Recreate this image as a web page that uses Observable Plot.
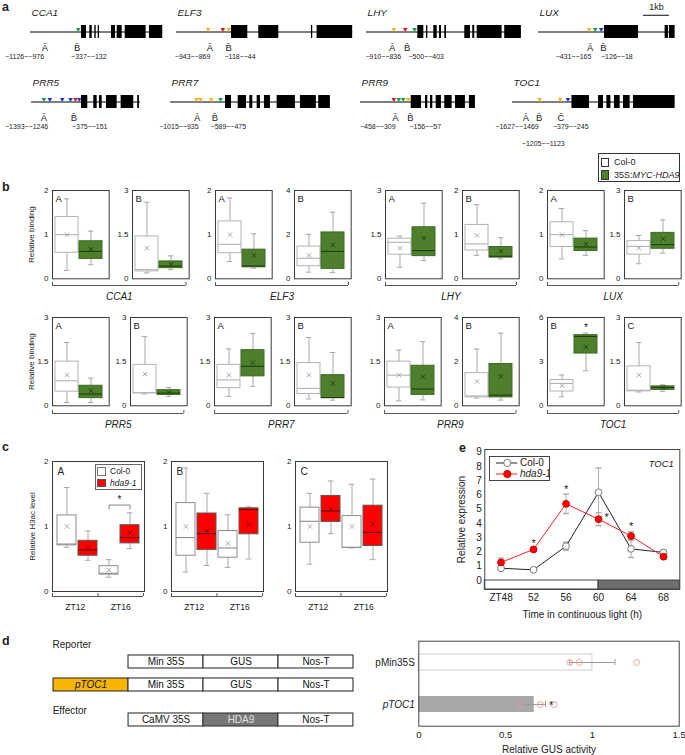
<!DOCTYPE html>
<html>
<head>
<meta charset="utf-8">
<script src="https://cdn.jsdelivr.net/npm/d3@7"></script>
<script src="https://cdn.jsdelivr.net/npm/@observablehq/plot@0.6"></script>
<style>
html,body{margin:0;padding:0;background:#fff;}
#fig{position:relative;width:685px;height:755px;overflow:hidden;font-family:"Liberation Sans",Arial,Helvetica,sans-serif;color:#222;}
#fig svg{overflow:visible;}
.t{position:absolute;white-space:nowrap;}
.box{position:absolute;box-sizing:border-box;}
</style>
</head>
<body>
<div id="fig"></div>
<script>
// ================= DATA =================
// ---- a: gene structures (bp, relative to first exon start) ----
const aGenes = ["CCA1","ELF3","LHY","LUX","PRR5","PRR7","PRR9","TOC1"];
const aSpan = {CCA1:[-1962,3127], ELF3:[-2115,4665], LHY:[-1973,3988], LUX:[-2538,2719],
               PRR5:[-1923,2269], PRR7:[-2115,4038], PRR9:[-1950,2473], TOC1:[-2285,3973]};
const aExons = {
  CCA1:[[0,192],[319,412],[512,565],[642,692],[1154,1308],[1373,1565],[1681,2488],[2615,3127]],
  ELF3:[[0,627],[1050,1819],[3077,3127],[3296,4665]],
  LHY:[[0,231],[335,385],[615,746],[835,912],[1038,1104],[1808,2027],[2115,2192],[2285,3246],[3346,3988]],
  LUX:[[0,1308],[2335,2462],[2500,2719]],
  PRR5:[[0,242],[473,604],[692,796],[962,1373],[1527,2012],[2165,2231]],
  PRR7:[[0,231],[488,808],[935,1050],[1219,1346],[1500,1731],[1988,2692],[2885,3500],[3588,4038]],
  PRR9:[[0,396],[550,638],[742,831],[962,1165],[1292,1577],[1704,2088],[2242,2473]],
  TOC1:[[0,677],[1023,1215],[1346,1500],[1638,1858],[1985,2242],[2369,3973]]
};
const motifTypes = ["Y","R","G","B"];
const motifColors = ["#f6b319","#e5141c","#14a04c","#1d35d4"];
const aMotifs = {
  CCA1:[["G",-127]],
  ELF3:[["Y",-896],["R",-335],["Y",-104]],
  LHY:[["Y",-923],["R",-485],["G",-127]],
  LUX:[["Y",-588],["G",-358],["B",-127]],
  PRR5:[["G",-1450],["B",-1219],["B",-742],["B",-423],["R",-231],["B",-88]],
  PRR7:[["Y",-1115],["Y",-962],["Y",-550],["G",-192]],
  PRR9:[["R",-669],["G",-477],["G",-308],["Y",-115]],
  TOC1:[["Y",-1246],["Y",-450],["B",-154]]
};
const aRegions = {
  CCA1:[{id:"A",at:-1412,range:"−1126~−976",rangeAt:-2192,tier:1},{id:"B",at:-165,range:"−337~−132",rangeAt:281,tier:1}],
  ELF3:[{id:"A",at:-835,range:"−943~−869",rangeAt:-1500,tier:1},{id:"B",at:-115,range:"−118~−44",rangeAt:327,tier:1}],
  LHY:[{id:"A",at:-985,range:"−910~−836",rangeAt:-1331,tier:1},{id:"B",at:-408,range:"−500~−403",rangeAt:323,tier:1}],
  LUX:[{id:"A",at:-550,range:"−431~−165",rangeAt:-1192,tier:1},{id:"B",at:-38,range:"−126~−18",rangeAt:477,tier:1}],
  PRR5:[{id:"A",at:-1450,range:"−1393~−1246",rangeAt:-2115,tier:1},{id:"B",at:-296,range:"−375~−151",rangeAt:315,tier:1}],
  PRR7:[{id:"A",at:-1088,range:"−1015~−935",rangeAt:-1796,tier:1},{id:"B",at:-412,range:"−589~−475",rangeAt:108,tier:1}],
  PRR9:[{id:"A",at:-604,range:"−458~−309",rangeAt:-1288,tier:1},{id:"B",at:-27,range:"−156~−57",rangeAt:542,tier:1}],
  TOC1:[{id:"A",at:-1769,range:"−1627~−1469",rangeAt:-2115,tier:1},{id:"B",at:-1258,range:"−1205~−1123",rangeAt:-1104,tier:2},{id:"C",at:-423,range:"−379~−245",rangeAt:-46,tier:1}]
};
const scaleBar = [{from:1500, to:2500, label:"1kb"}];

// ---- b: ChIP relative binding, [lowWhisker, Q1, median, Q3, highWhisker, mean] ----
const bGenotypes = ["Col-0","35S:MYC-HDA9"];
const bGenes = ["CCA1","ELF3","LHY","LUX","PRR5","PRR7","PRR9","TOC1"];
const bSubpanels = [
  {gene:"CCA1",region:"A",top:2,col:[0.19,0.59,1.00,1.40,1.81,1.00],hda9:[0.32,0.45,0.62,0.85,1.08,0.67]},
  {gene:"CCA1",region:"B",top:3,col:[0.20,0.25,0.31,1.44,2.60,1.04],hda9:[0.31,0.36,0.43,0.59,0.78,0.49]},
  {gene:"ELF3",region:"A",top:2,col:[0.39,0.58,0.78,1.30,1.83,1.00],hda9:[0.24,0.26,0.29,0.66,1.02,0.53]},
  {gene:"ELF3",region:"B",top:4,col:[0.30,0.57,0.93,1.46,2.01,1.06],hda9:[0.28,0.45,1.24,2.10,3.02,1.54]},
  {gene:"LHY",region:"A",top:3,col:[0.39,0.82,1.24,1.36,1.45,1.04],hda9:[0.62,0.77,0.96,1.75,2.57,1.38]},
  {gene:"LHY",region:"B",top:2,col:[0.53,0.64,0.79,1.22,1.68,0.98],hda9:[0.45,0.48,0.51,0.72,0.93,0.63]},
  {gene:"LUX",region:"A",top:2,col:[0.45,0.72,1.00,1.28,1.59,1.00],hda9:[0.53,0.63,0.72,0.91,1.09,0.79]},
  {gene:"LUX",region:"B",top:3,col:[0.51,0.82,1.10,1.28,1.47,1.04],hda9:[0.87,1.02,1.16,1.56,2.00,1.36]},
  {gene:"PRR5",region:"A",top:3,col:[0.11,0.48,0.85,1.50,2.15,1.04],hda9:[0.11,0.26,0.40,0.68,0.94,0.51]},
  {gene:"PRR5",region:"B",top:3,col:[0.40,0.43,0.44,1.39,2.35,1.08],hda9:[0.32,0.37,0.43,0.53,0.62,0.45]},
  {gene:"PRR7",region:"A",top:3,col:[0.32,0.60,0.88,1.39,1.93,1.04],hda9:[0.66,1.00,1.34,1.89,2.46,1.47]},
  {gene:"PRR7",region:"B",top:3,col:[0.23,0.40,0.59,1.45,2.32,1.04],hda9:[0.19,0.26,0.28,1.04,1.81,0.76]},
  {gene:"PRR9",region:"A",top:3,col:[0.17,0.62,1.04,1.50,1.89,1.04],hda9:[0.20,0.37,0.57,1.36,2.18,0.99]},
  {gene:"PRR9",region:"B",top:4,col:[0.35,0.38,0.45,1.48,2.57,1.10],hda9:[0.26,0.38,0.48,1.89,3.29,1.33]},
  {gene:"TOC1",region:"B",top:6,col:[0.61,0.97,1.52,1.75,2.09,1.36],hda9:[2.38,3.55,4.71,4.80,4.94,4.01],star:"*"},
  {gene:"TOC1",region:"C",top:3,col:[0.47,0.49,0.53,1.34,2.15,1.04],hda9:[0.49,0.54,0.62,0.66,0.71,0.62]}
];

// ---- c: H3ac level ----
const cRegions = ["A","B","C"];
const cZT = ["ZT12","ZT16"];
const cGenotypes = ["Col-0","hda9-1"];
const cYTicks = [0,1,2];
const cH3ac = [
  {region:"A",zt:"ZT12",genotype:"Col-0", v:[0.68,0.71,0.73,1.17,1.60,1.00]},
  {region:"A",zt:"ZT12",genotype:"hda9-1",v:[0.48,0.55,0.64,0.78,0.93,0.68]},
  {region:"A",zt:"ZT16",genotype:"Col-0", v:[0.22,0.26,0.28,0.39,0.49,0.33]},
  {region:"A",zt:"ZT16",genotype:"hda9-1",v:[0.66,0.74,0.83,1.02,1.21,0.90]},
  {region:"B",zt:"ZT12",genotype:"Col-0", v:[0.30,0.55,0.83,1.36,1.90,1.00]},
  {region:"B",zt:"ZT12",genotype:"hda9-1",v:[0.40,0.64,0.89,1.20,1.51,0.93]},
  {region:"B",zt:"ZT16",genotype:"Col-0", v:[0.37,0.52,0.67,0.93,1.18,0.74]},
  {region:"B",zt:"ZT16",genotype:"hda9-1",v:[0.50,0.88,1.26,1.28,1.30,1.03]},
  {region:"C",zt:"ZT12",genotype:"Col-0", v:[0.42,0.75,1.08,1.29,1.51,1.00]},
  {region:"C",zt:"ZT12",genotype:"hda9-1",v:[0.89,1.07,1.24,1.47,1.70,1.27]},
  {region:"C",zt:"ZT16",genotype:"Col-0", v:[0.67,0.67,0.68,1.16,1.65,1.00]},
  {region:"C",zt:"ZT16",genotype:"hda9-1",v:[0.49,0.70,0.91,1.32,1.73,1.04]}
];
const cSignif = [{region:"A", zt:"ZT16", label:"*"}];

// ---- d: GUS reporter assay ----
const constructSlots = ["promoter","core","cds","terminator"];
const reporterParts = [
  {construct:"reporter1",slot:"core",label:"Min 35S"},{construct:"reporter1",slot:"cds",label:"GUS"},{construct:"reporter1",slot:"terminator",label:"Nos-T"},
  {construct:"reporter2",slot:"promoter",label:"pTOC1"},{construct:"reporter2",slot:"core",label:"Min 35S"},{construct:"reporter2",slot:"cds",label:"GUS"},{construct:"reporter2",slot:"terminator",label:"Nos-T"}
];
const effectorParts = [
  {construct:"effector",slot:"core",label:"CaMV 35S"},{construct:"effector",slot:"cds",label:"HDA9"},{construct:"effector",slot:"terminator",label:"Nos-T"}
];
const gusConstructs = ["pMin35S","pTOC1"];
const gusMean = [1.00, 0.665];
const gusErr = [0.13, 0.065];
const gusReps = [[0.87,0.925,1.255],[0.585,0.70,0.78]];
const gusSignif = ["", "*"];
const gusXTicks = [0, 0.5, 1, 1.5];
const gusXTitle = "Relative GUS activity";

// ---- e: TOC1 expression ----
const eTime = [48,52,56,60,64,68];
const eXTickLabels = ["ZT48","52","56","60","64","68"];
const eYTicks = [0,1,2,3,4,5,6,7,8,9];
const eCol0 = [0.86,0.75,2.41,6.19,2.22,1.97];
const eCol0Err = [0.15,0.06,0.28,1.70,0.60,0.15];
const eHda9 = [1.27,2.18,5.38,4.30,3.12,1.67];
const eHda9Err = [0.30,0.10,0.68,0.45,0.30,0.15];
const eStarTimes = [52,56,60,64];
const eLightDark = [{phase:"light",from:46,to:60},{phase:"dark",from:60,to:70}];

// ================= HELPERS =================
const FONT = "'Liberation Sans', Arial, Helvetica, sans-serif";
const fig = document.getElementById("fig");
const fmt = d => String(d);
function put(node, left, top){ node.style.position="absolute"; node.style.left=left+"px"; node.style.top=top+"px"; fig.appendChild(node); return node; }
function st(size){ return {background:"transparent", overflow:"visible", fontFamily:FONT, fontSize:size+"px", color:"#222"}; }
function txt(html, x, cy, size, o={}){
  const el=document.createElement("div"); el.className="t"; el.innerHTML=html;
  el.style.fontSize=size+"px"; el.style.lineHeight=(size*1.2)+"px"; el.style.left=x+"px"; el.style.top=(cy-size*0.6)+"px";
  if(o.bold) el.style.fontWeight="bold"; if(o.italic) el.style.fontStyle="italic"; if(o.color) el.style.color=o.color;
  fig.appendChild(el); return el;
}
function box(x,y,w,h,css){ const el=document.createElement("div"); el.className="box"; Object.assign(el.style,{left:x+"px",top:y+"px",width:w+"px",height:h+"px"},css); fig.appendChild(el); return el; }
function letter(ch, x, baseline){ const s=12.5; const el=txt(ch,x,0,s,{bold:true}); el.style.top=(baseline-0.9465*s)+"px"; }
const toStats = a => ({lo:a[0],q1:a[1],med:a[2],q3:a[3],hi:a[4],mean:a[5]});
const downTri = {draw(c,s){ const w=Math.sqrt(s/Math.PI)*0.9; c.moveTo(-w,-1.7*w); c.lineTo(w,-1.7*w); c.lineTo(0,0); c.closePath(); }};
const hcap = {draw(c,s){ const w=Math.sqrt(s/Math.PI); c.moveTo(-w,0); c.lineTo(w,0); }};
const WHISK = "#a8a8a8";

function boxMarks(stats, sty, cap){
  const f = k => d => sty[d.genotype][k];
  return [
    Plot.ruleX(stats,{x:"key",y1:"lo",y2:"q1",stroke:WHISK}),
    Plot.ruleX(stats,{x:"key",y1:"q3",y2:"hi",stroke:WHISK}),
    Plot.tickY(stats,{x:"key",y:"lo",stroke:WHISK,insetLeft:cap,insetRight:cap}),
    Plot.tickY(stats,{x:"key",y:"hi",stroke:WHISK,insetLeft:cap,insetRight:cap}),
    Plot.barY(stats,{x:"key",y1:"q1",y2:"q3",fill:f("fill"),stroke:f("stroke")}),
    Plot.tickY(stats,{x:"key",y:"med",stroke:f("median"),strokeWidth:1.1}),
    Plot.dot(stats,{x:"key",y:"mean",symbol:"times",r:2.2,stroke:f("mean"),strokeWidth:0.9})
  ];
}
function bracket(labels, left, lineY, width, o={}){
  const tick=o.tick??3, n=labels.length, bounds=d3.range(n+1);
  const svg=Plot.plot({width, height:tick+20, marginLeft:0, marginRight:0, marginTop:0, marginBottom:20,
    x:{domain:[0,n],axis:null}, y:{domain:[0,1],axis:null}, style:st(o.size??10),
    marks:[Plot.ruleY([0],{stroke:"#555"}), Plot.tickX(bounds,{x:d=>d,stroke:"#555"}),
      Plot.text(labels,{x:(d,i)=>i+0.5,frameAnchor:"bottom",lineAnchor:"middle",dy:o.dy??11,fontStyle:o.italic?"italic":"normal"})]});
  put(svg, left, lineY-tick);
}

// ================= PANEL a =================
const aLayout = {CCA1:[81,31],ELF3:[231,31],LHY:[417.3,31],LUX:[604.3,31],PRR5:[81,101.7],PRR7:[225,101.7],PRR9:[410.7,101.7],TOC1:[571.7,101.7]};
const KB = 26, EXON_H = 13;
for (const g of aGenes){
  const [s,e]=aSpan[g], [tx,ly]=aLayout[g];
  const ex=aExons[g].map(([x1,x2])=>({x1,x2}));
  const mo=aMotifs[g].map(([type,pos])=>({type,pos}));
  const rg=aRegions[g];
  const marks=[
    Plot.ruleY([0],{stroke:"#555",strokeWidth:1.3}),
    Plot.rect(ex,{x1:"x1",x2:"x2",fill:"#000"}),
    Plot.dot(mo,{x:"pos",y:0,symbol:downTri,r:2.6,fill:"type",stroke:"none"}),
    Plot.text([g],{frameAnchor:"top-left",lineAnchor:"middle",textAnchor:"start",dx:1,dy:-12.7,fontStyle:"italic",fontSize:10}),
    Plot.text(rg,{x:"at",y:0,dy:15.5,text:d=>d.id+"\u0304",fontSize:9.5}),
    Plot.text(rg.filter(d=>d.tier===1),{x:"rangeAt",y:0,dy:24.5,text:"range",fontSize:7}),
    Plot.text(rg.filter(d=>d.tier===2),{x:"rangeAt",y:0,dy:42,text:"range",fontSize:7})
  ];
  if (g==="LUX") marks.push(
    Plot.ruleY(scaleBar,{x1:"from",x2:"to",y:0,dy:-16.7,stroke:"#333",strokeWidth:1.2}),
    Plot.text(scaleBar,{x:d=>(d.from+d.to)/2,y:0,dy:-24.5,text:"label",fontSize:9}));
  const svg=Plot.plot({width:(e-s)/1000*KB, height:EXON_H, marginLeft:0, marginRight:0, marginTop:0, marginBottom:0,
    x:{domain:[s,e],axis:null}, y:{domain:[-1,1],axis:null}, color:{domain:motifTypes,range:motifColors},
    style:st(9), marks});
  put(svg, tx+s/1000*KB, ly-EXON_H/2);
}

// ================= PANEL b =================
const bLeft = [[52.3,132.3,215,294.3,385,462.3,546.7,624.3],[52.3,130,214.3,294.3,384.3,462.3,546.7,624.3]];
const bTop = [190,316.7];
const B_W=56.7, B_H=88.3;
const bStyle = {
  "Col-0":{fill:"#ffffff",stroke:"#b3b3b3",median:"#b3b3b3",mean:"#a0a0a0"},
  "35S:MYC-HDA9":{fill:"#4e7f2c",stroke:"#3c6a20",median:"#1f3d0d",mean:"#1f3d0d"}
};
bSubpanels.forEach((d,i)=>{
  const row=Math.floor(i/8), col=i%8, fl=bLeft[row][col], ft=bTop[row];
  const ML=28, MT=8, MR=4, MB=4;
  const stats=[{key:bGenotypes[0],genotype:bGenotypes[0],...toStats(d.col)},{key:bGenotypes[1],genotype:bGenotypes[1],...toStats(d.hda9)}];
  const marks=[...boxMarks(stats,bStyle,8.8), Plot.frame({stroke:"#3a3a3a"}),
    Plot.axisY([0,d.top/2,d.top],{tickSize:0,tickPadding:4,fontSize:8,tickFormat:fmt,label:col===0?"Relative binding":null,labelAnchor:"center",labelOffset:24,labelArrow:"none"}),
    Plot.text([d.region],{frameAnchor:"top-left",lineAnchor:"middle",textAnchor:"start",dx:3,dy:8,fontSize:9.5})];
  if (d.star) marks.push(Plot.text(stats.slice(1),{x:"key",y:"hi",dy:-5,text:()=>d.star,fontSize:10}));
  const svg=Plot.plot({width:ML+B_W+MR,height:MT+B_H+MB,marginLeft:ML,marginRight:MR,marginTop:MT,marginBottom:MB,
    x:{type:"band",domain:bGenotypes,paddingInner:0.05,paddingOuter:0,insetLeft:2,insetRight:6,axis:null},
    y:{domain:[0,d.top]}, color:{type:"identity"}, style:st(8), marks});
  put(svg, fl-ML, ft-MT);
});
bGenes.forEach((g,k)=>{
  const row=Math.floor(k/4), c=(k%4)*2;
  const left=bLeft[row][c], right=bLeft[row][c+1]+B_W-3;
  bracket([g], left, row===0?285:413, right-left, {italic:true,size:10,dy:11.5});
});
// legend b
box(598.3,153.3,81.7,28.4,{border:"1px solid #333"});
box(601,157.7,8.3,9,{border:"1px solid #333",background:"#fff"});
box(601,170,8.3,9.5,{border:"1px solid #333",background:bStyle["35S:MYC-HDA9"].fill});
txt(bGenotypes[0],614,162.3,9);
txt("35S:<i>MYC-HDA9</i>",614,175,9);

// ================= PANEL c =================
const cLeft=[52.3,171,295], cTop=461, C_W=92, C_H=130;
const cKeys = cZT.flatMap(z=>cGenotypes.map(g=>z+" "+g));
const cStyle = {
  "Col-0":{fill:"#ffffff",stroke:"#8c8c8c",median:"#8c8c8c",mean:"#a0a0a0"},
  "hda9-1":{fill:"#ff0000",stroke:"#5a5a5a",median:"#5a0000",mean:"#6a0000"}
};
cRegions.forEach((r,i)=>{
  const ML=28, MT=8, MR=4, MB=4;
  const stats=cH3ac.filter(d=>d.region===r).map(d=>({key:d.zt+" "+d.genotype,genotype:d.genotype,...toStats(d.v)}));
  const marks=[...boxMarks(stats,cStyle,6.7), Plot.frame({stroke:"#3a3a3a"}),
    Plot.axisY(cYTicks,{tickSize:0,tickPadding:4,fontSize:8,tickFormat:fmt,label:i===0?"Relative H3ac level":null,labelAnchor:"center",labelOffset:23,labelArrow:"none"}),
    Plot.text([r],{frameAnchor:"top-left",lineAnchor:"middle",textAnchor:"start",dx:5,dy:10,fontSize:10})];
  for (const s of cSignif.filter(s=>s.region===r)){
    const grp=stats.filter(d=>d.key.startsWith(s.zt));
    const yb=d3.max(grp,d=>d.hi)+0.12, k1=grp[0].key, k2=grp[grp.length-1].key;
    marks.push(Plot.line([{k:k1,y:yb-0.06},{k:k1,y:yb},{k:k2,y:yb},{k:k2,y:yb-0.06}],{x:"k",y:"y",stroke:"#777",strokeWidth:0.9}));
    marks.push(Plot.text([{k:k1,y:yb}],{x:"k",y:"y",dx:10.5,dy:-5,text:()=>s.label,fontSize:10}));
  }
  const svg=Plot.plot({width:ML+C_W+MR,height:MT+C_H+MB,marginLeft:ML,marginRight:MR,marginTop:MT,marginBottom:MB,
    x:{type:"band",domain:cKeys,paddingInner:0.1,paddingOuter:0,insetLeft:4.4,insetRight:5.3,axis:null},
    y:{domain:[0,2]}, color:{type:"identity"}, style:st(8), marks});
  put(svg, cLeft[i]-ML, cTop-MT);
  bracket(cZT, cLeft[i], 595.7, C_W-1, {size:8.5,dy:11});
});
// legend c
box(95,464.3,46.7,25.7,{border:"1px solid #666"});
box(97.3,467.3,8.4,8.4,{border:"1px solid #777",background:"#fff"});
box(97.3,479.3,8.4,8.2,{border:"1px solid #555",background:cStyle["hda9-1"].fill});
txt(cGenotypes[0],110,471.5,8.5);
txt(cGenotypes[1],110,483.3,8.5,{italic:true});

// ================= PANEL d =================
const partFill = {pTOC1:"#f7b500", HDA9:"#777777"};
const partText = {HDA9:"#e0e0e0"};
function constructPlot(parts, rows, label, left, top, height, padInner){
  const svg=Plot.plot({width:303.3,height,marginLeft:0,marginRight:0,marginTop:0,marginBottom:0,
    x:{type:"band",domain:constructSlots,padding:0,axis:null},
    y:{type:"band",domain:rows,paddingInner:padInner,paddingOuter:0,axis:null},
    color:{type:"identity"}, style:st(10),
    marks:[
      Plot.cell(parts,{x:"slot",y:"construct",fill:d=>partFill[d.label]??"#ffffff",stroke:"#333",strokeWidth:1.1,inset:0}),
      Plot.text(parts.filter(d=>d.slot!=="promoter"),{x:"slot",y:"construct",text:"label",fill:d=>partText[d.label]??"#111"}),
      Plot.text(parts.filter(d=>d.slot==="promoter"),{x:"slot",y:"construct",text:"label",fontStyle:"italic",fill:"#111"}),
      Plot.text([label],{frameAnchor:"top-left",lineAnchor:"middle",textAnchor:"start",dx:1,dy:label==="Reporter"?-11:-2.6})
    ]});
  put(svg,left,top);
}
constructPlot(reporterParts,["reporter1","reporter2"],"Reporter",51,655,36.8,0.42);
constructPlot(effectorParts,["effector"],"Effector",51,713.3,13.7,0);

const gusRows = gusConstructs.map((c,i)=>({construct:c,mean:gusMean[i],err:gusErr[i],signif:gusSignif[i]}));
const gusPoints = gusConstructs.flatMap((c,i)=>gusReps[i].map(v=>({construct:c,value:v})));
{
  const svg=Plot.plot({width:345,height:125,marginLeft:78.3,marginRight:6.3,marginTop:10.7,marginBottom:29.3,
    x:{domain:[0,1.5]}, y:{type:"band",domain:gusConstructs,paddingInner:0.62,paddingOuter:0.31,axis:null},
    color:{type:"identity"}, style:st(10),
    marks:[
      Plot.barX(gusRows,{y:"construct",x:"mean",fill:d=>d.construct==="pTOC1"?"#a8a8a8":"#ffffff",stroke:d=>d.construct==="pTOC1"?"none":"#cfcfcf"}),
      Plot.ruleY(gusRows,{y:"construct",x1:d=>d.mean-d.err,x2:d=>d.mean+d.err,stroke:"#9a9a9a"}),
      Plot.tickX(gusRows,{y:"construct",x:d=>d.mean-d.err,stroke:"#9a9a9a",insetTop:5,insetBottom:5}),
      Plot.tickX(gusRows,{y:"construct",x:d=>d.mean+d.err,stroke:"#9a9a9a",insetTop:5,insetBottom:5}),
      Plot.dot(gusPoints,{y:"construct",x:"value",r:3,stroke:"#f19c9c",fill:"none",strokeWidth:0.9}),
      Plot.text(gusRows.filter(d=>d.signif),{y:"construct",x:d=>d.mean+d.err,dx:3.5,dy:1,text:"signif",textAnchor:"start",fontSize:11}),
      Plot.frame({stroke:"#444"}),
      Plot.axisX(gusXTicks,{tickSize:0,tickPadding:5,fontSize:9.5,tickFormat:fmt,label:null}),
      Plot.text([gusXTitle],{frameAnchor:"bottom",lineAnchor:"middle",dy:23.6,fontSize:10}),
      Plot.text(gusRows.filter(d=>d.construct!=="pTOC1"),{y:"construct",frameAnchor:"left",dx:-4,textAnchor:"end",text:"construct"}),
      Plot.text(gusRows.filter(d=>d.construct==="pTOC1"),{y:"construct",frameAnchor:"left",dx:-4,textAnchor:"end",text:"construct",fontStyle:"italic"})
    ]});
  put(svg,340,630);
}

// ================= PANEL e =================
const eSeries = [
  {name:"Col-0", values:eCol0, err:eCol0Err, line:"#222222", fill:"#ffffff", stroke:"#7a7a7a"},
  {name:"hda9-1", values:eHda9, err:eHda9Err, line:"#ff2020", fill:"#ff0000", stroke:"#cc0000"}
];
const eSty = Object.fromEntries(eSeries.map(s=>[s.name,s]));
const ePoints = eSeries.flatMap(s=>eTime.map((t,i)=>({series:s.name,t,v:s.values[i],e:s.err[i]})));
const eStars = ePoints.filter(d=>d.series==="hda9-1" && eStarTimes.includes(d.t));
const yFloor = -0.63;
{
  const svg=Plot.plot({width:245,height:185,marginLeft:44.3,marginRight:5.7,marginTop:9,marginBottom:36,
    x:{domain:[46,70]}, y:{domain:[yFloor,9.19]}, color:{type:"identity"}, style:st(10),
    marks:[
      Plot.rect(eLightDark,{x1:"from",x2:"to",y1:yFloor,y2:0,fill:d=>d.phase==="dark"?"#6e6e6e":"#ffffff",stroke:"#444"}),
      Plot.frame({stroke:"#444"}),
      Plot.axisY(eYTicks,{tickSize:0,tickPadding:3,tickFormat:fmt,label:"Relative expression",labelAnchor:"center",labelOffset:27,labelArrow:"none"}),
      Plot.axisX(eTime,{tickSize:0,tickPadding:4,tickFormat:d=>eXTickLabels[eTime.indexOf(d)],label:"Time in continuous light (h)",labelAnchor:"center",labelOffset:28,labelArrow:"none"}),
      Plot.ruleX(ePoints,{x:"t",y1:d=>d.v-d.e,y2:d=>d.v+d.e,stroke:"#b0b0b0"}),
      Plot.dot(ePoints,{x:"t",y:d=>d.v+d.e,symbol:hcap,r:3,stroke:"#b0b0b0",fill:"none"}),
      Plot.dot(ePoints,{x:"t",y:d=>d.v-d.e,symbol:hcap,r:3,stroke:"#b0b0b0",fill:"none"}),
      Plot.line(ePoints,{x:"t",y:"v",z:"series",stroke:d=>eSty[d.series].line,strokeWidth:1}),
      Plot.dot(ePoints,{x:"t",y:"v",r:3.4,fill:d=>eSty[d.series].fill,stroke:d=>eSty[d.series].stroke,strokeWidth:1}),
      Plot.text(eStars.filter(d=>d.t!==60),{x:"t",y:d=>d.v+d.e,dy:-5,text:()=>"*",fontSize:11}),
      Plot.text(eStars.filter(d=>d.t===60),{x:"t",y:"v",dx:8,dy:-2,text:()=>"*",fontSize:11}),
      Plot.text(["TOC1"],{frameAnchor:"top-right",lineAnchor:"middle",textAnchor:"end",dx:-6,dy:14,fontStyle:"italic",fontSize:9.5})
    ]});
  put(svg,440,440);
}
// legend e
box(489.3,455.7,60.7,25.3,{border:"1px solid #444"});
eSeries.forEach((s,i)=>{
  const cy=[462.7,474.3][i];
  const ns="http://www.w3.org/2000/svg";
  const sv=document.createElementNS(ns,"svg"); sv.setAttribute("width",22); sv.setAttribute("height",10);
  sv.innerHTML=`<line x1="0" x2="21.3" y1="5" y2="5" stroke="${s.line}" stroke-width="1"/><circle cx="11.3" cy="5" r="3.6" fill="${s.fill}" stroke="${s.stroke}"/>`;
  put(sv,496,cy-5);
  txt(s.name,520,cy,10,{italic:s.name==="hda9-1"});
});

// ================= panel letters =================
letter("a",2,12); letter("b",2,191.7); letter("c",2,451.7); letter("d",2,645.7); letter("e",459,452.7);
</script>
</body>
</html>
